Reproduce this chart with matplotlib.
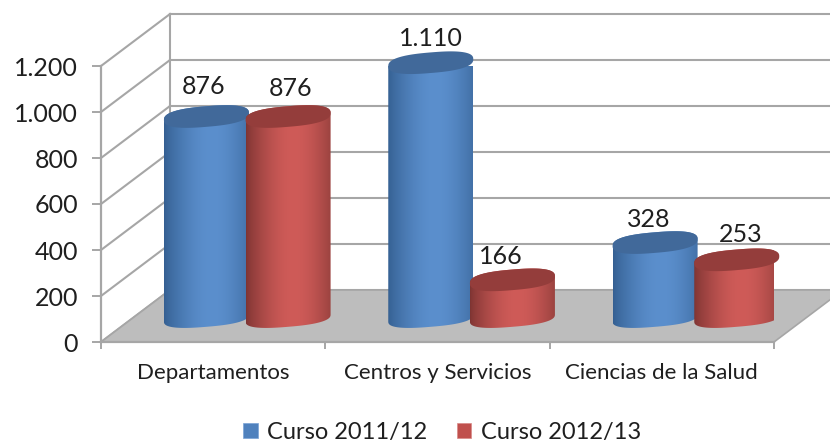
import numpy as np
import matplotlib
matplotlib.use("Agg")
import matplotlib.pyplot as plt
from matplotlib.patches import Polygon, Patch

categories = ["Departamentos", "Centros y Servicios", "Ciencias de la Salud"]
series_names = ["Curso 2011/12", "Curso 2012/13"]
curso_2011 = [876, 1110, 328]
curso_2012 = [876, 166, 253]
value_labels_2011 = ["876", "1.110", "328"]
value_labels_2012 = ["876", "166", "253"]
y_ticks = [0, 200, 400, 600, 800, 1000, 1200]
y_tick_labels = ["0", "200", "400", "600", "800", "1.000", "1.200"]

W, H = 830, 443
FONT = "Lato"
TEXT = "#1f1f1f"
GRID = "#a6a6a6"
plt.rcParams["font.family"] = [FONT, "DejaVu Sans"]

# plot frame in pixels
L, R, B, T = 101, 774, 342, 66
PX_X = (R - L) / 3.0
PX_Y = (B - T) / 1200.0
DEPTH_X = 69 / PX_X
DEPTH_Y = 52 / PX_Y

fig = plt.figure(figsize=(W / 100, H / 100), dpi=100, facecolor="white")
ax = fig.add_axes([L / W, 1 - B / H, (R - L) / W, (B - T) / H])
ax.set_facecolor("none")
for s in ("top", "right"):
    ax.spines[s].set_visible(False)
for s in ("left", "bottom"):
    ax.spines[s].set_color(GRID)
    ax.spines[s].set_linewidth(1.6)

# walls
for v in y_ticks:
    ax.plot([0, DEPTH_X], [v, v + DEPTH_Y], color=GRID, lw=1.5, clip_on=False, zorder=1)
    ax.plot([DEPTH_X, 3 + DEPTH_X], [v + DEPTH_Y] * 2, color=GRID, lw=1.5, clip_on=False, zorder=1)
ax.plot([DEPTH_X, DEPTH_X], [DEPTH_Y, 1200 + DEPTH_Y], color=GRID, lw=1.5, clip_on=False, zorder=1)

# floor
ax.add_patch(Polygon([(0, 0), (3, 0), (3 + DEPTH_X, DEPTH_Y), (DEPTH_X, DEPTH_Y)],
                     closed=True, facecolor="#bdbdbd", edgecolor=GRID, lw=1.2,
                     clip_on=False, zorder=2))

# cylinders
RX = 42.5 / PX_X
RY_BOTTOM = 8.8 / PX_Y
RY_TOP = 10.3 / PX_Y
TILT = 3.5 / PX_Y
BASE = 24 / PX_Y
OFFSETS = [0.47, 0.834]
ROUND = 0.78
t_low = np.linspace(np.pi, 2 * np.pi, 60)
t_up = np.linspace(0, np.pi, 60)


def ring(cx, cy, t, ry):
    c = np.sign(np.cos(t)) * np.abs(np.cos(t)) ** ROUND
    s = np.sign(np.sin(t)) * np.abs(np.sin(t)) ** ROUND
    return cx + RX * c, cy + ry * s + TILT * c


def shade(edge, mid):
    s = np.linspace(0, 1, 128)
    f = np.exp(-((s - 0.56) / 0.46) ** 2)
    f = (f - f.min()) / (f.max() - f.min())
    f = f ** 0.65
    edge, mid = np.array(edge), np.array(mid)
    return (edge[None, :] + (mid - edge)[None, :] * f[:, None])[None, :, :] / 255.0


def cylinder(cx, value, edge, mid, top, z):
    y0, y1 = BASE, BASE + value
    xb, yb = ring(cx, y0, t_low, RY_BOTTOM)
    xt, yt = ring(cx, y1, t_up, RY_TOP)
    body = Polygon(np.column_stack([np.r_[xb, xt], np.r_[yb, yt]]), closed=True,
                   facecolor="none", edgecolor="none", transform=ax.transData, zorder=z)
    ax.add_patch(body)
    im = ax.imshow(shade(edge, mid), extent=[cx - RX, cx + RX, y0 - 2 * RY_TOP, y1 + 2 * RY_TOP],
                   aspect="auto", interpolation="bilinear", zorder=z, origin="lower")
    im.set_clip_path(body)
    xe, ye = ring(cx, y1, np.linspace(0, 2 * np.pi, 120), RY_TOP)
    ax.fill(xe, ye, color=top, lw=0, zorder=z + 0.1, clip_on=False)


STYLES = [((52, 95, 145), (91, 143, 205), "#41699a"),
          ((125, 52, 50), (207, 91, 88), "#943d3b")]
all_values = [curso_2011, curso_2012]
all_texts = [value_labels_2011, value_labels_2012]
NUDGE = [[(-3, 30), (0, 24), (-6, 23)], [(2, 28), (-12, 23), (4, 25)]]
z = 3
for i in range(len(categories)):
    for j in range(2):
        cx = i + OFFSETS[j]
        v = all_values[j][i]
        cylinder(cx, v, *STYLES[j], z)
        z += 1
        ax.annotate(all_texts[j][i], (cx, BASE + v), xytext=(NUDGE[j][i][0] * 0.72, NUDGE[j][i][1] * 0.72),
                    textcoords="offset points", ha="center", va="center",
                    fontsize=18, color=TEXT, zorder=30, annotation_clip=False)

ax.set_xlim(0, 3)
ax.set_ylim(0, 1200)
ax.set_yticks(y_ticks)
ax.set_yticklabels(y_tick_labels, fontsize=18, color=TEXT)
ax.tick_params(axis="y", length=6.5, width=1.4, color=GRID, pad=10)
ax.set_xticks([0, 1, 2, 3])
ax.set_xticklabels([])
ax.tick_params(axis="x", which="major", length=5, width=1.4, color=GRID)
ax.set_xticks([0.5, 1.5, 2.5], minor=True)
ax.set_xticklabels(categories, minor=True, fontsize=16, color=TEXT)
ax.tick_params(axis="x", which="minor", length=0, pad=15)

handles = [Patch(facecolor="#4f81bd", edgecolor="#7aa3d6", lw=0.5),
           Patch(facecolor="#c0504d", edgecolor="#d98a88", lw=0.5)]
fig.legend(handles, series_names, loc="center", bbox_to_anchor=(442 / W, 1 - 432 / H), ncol=2,
           frameon=False, fontsize=17, labelcolor=TEXT, handlelength=0.62, handleheight=0.62,
           handletextpad=0.4, columnspacing=1.25, borderpad=0)

fig.savefig("out.png", dpi=100, facecolor="white")
